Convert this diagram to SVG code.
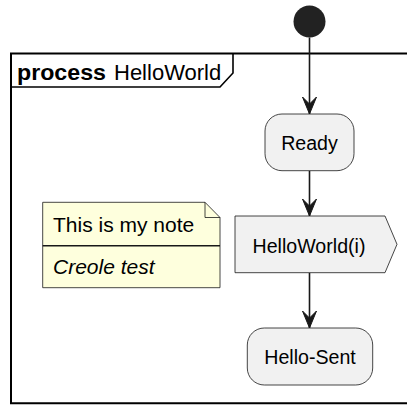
<svg xmlns="http://www.w3.org/2000/svg" width="407" height="405" viewBox="0 0 407 405">
<style>
  .act { fill: #F1F1F1; stroke: #181818; stroke-width: 0.8; }
  .lbl { font-family: "Liberation Sans", Arial, sans-serif; font-size: 19.6px; fill: #000; text-anchor: middle; }
  .note { fill: #FEFFDD; stroke: #181818; stroke-width: 0.8; }
  .ntxt { font-family: "Liberation Sans", Arial, sans-serif; font-size: 21px; fill: #000; }
  .conn { stroke: #181818; stroke-width: 1.6; fill: none; }
  .frame { fill: none; stroke: #000; stroke-width: 2; }
</style>
<defs>
  <marker id="arr" markerUnits="userSpaceOnUse" orient="auto" refX="0" refY="0" markerWidth="20" markerHeight="20" overflow="visible">
    <path d="M0,0 L-17,-7 L-10,0 L-17,7 Z" fill="#181818" stroke="#181818" stroke-width="1"/>
  </marker>
</defs>
<rect width="407" height="405" fill="#FFFFFF"/>
<g id="frame">
  <path class="frame" d="M420,53.5 H11 V403.3 H420"/>
  <path d="M11,87 H220 L233,73 V53.5" fill="none" stroke="#000" stroke-width="1.6"/>
  <text x="17" y="80" font-family="Liberation Sans, Arial, sans-serif" font-size="22" fill="#000"><tspan font-weight="bold" textLength="89" lengthAdjust="spacingAndGlyphs">process</tspan><tspan x="114">HelloWorld</tspan></text>
</g>
<g id="start">
  <circle cx="309.5" cy="21.5" r="16" fill="#222222"/>
</g>
<g id="connectors">
  <line class="conn" x1="309.5" y1="37.5" x2="309.5" y2="114" marker-end="url(#arr)"/>
  <line class="conn" x1="309.5" y1="170.7" x2="309.5" y2="216" marker-end="url(#arr)"/>
  <line class="conn" x1="309.5" y1="272.7" x2="309.5" y2="328" marker-end="url(#arr)"/>
</g>
<g id="ready">
  <rect class="act" x="265" y="114" width="89" height="56.7" rx="17" ry="17"/>
  <text class="lbl" x="309.5" y="150">Ready</text>
</g>
<g id="helloworld">
  <polygon class="act" points="235,216 385,216 397,244.3 385,272.7 235,272.7"/>
  <text class="lbl" x="309" y="253">HelloWorld(i)</text>
</g>
<g id="hellosent">
  <rect class="act" x="247.3" y="328" width="125.4" height="57" rx="17" ry="17"/>
  <text class="lbl" x="310" y="364">Hello-Sent</text>
</g>
<g id="note">
  <polygon class="note" points="42.7,202.3 205,202.3 220,217.5 220,287.7 42.7,287.7"/>
  <path d="M205,202.3 V217.5 H220" fill="none" stroke="#181818" stroke-width="0.8"/>
  <line x1="42.7" y1="245.7" x2="220" y2="245.7" stroke="#181818" stroke-width="1.4"/>
  <text class="ntxt" x="53" y="231.7">This is my note</text>
  <text class="ntxt" x="53" y="274" font-style="italic">Creole test</text>
</g>
</svg>
